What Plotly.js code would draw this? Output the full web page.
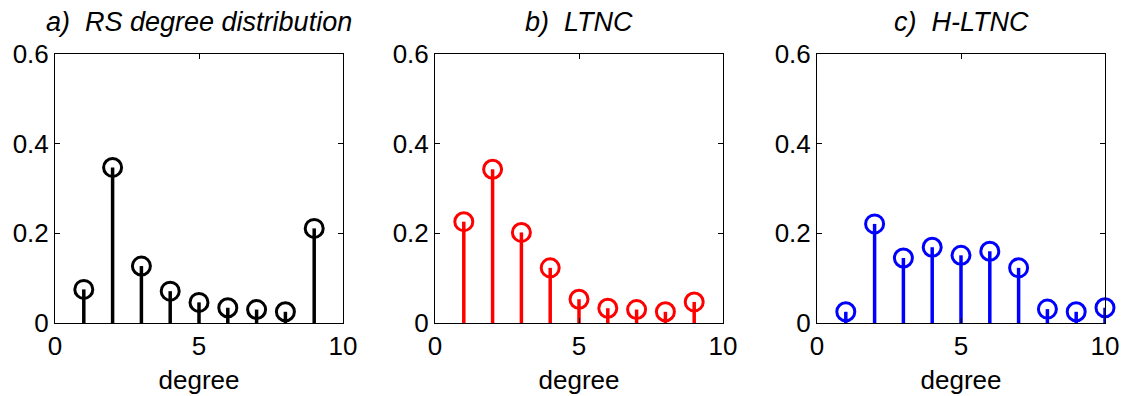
<!DOCTYPE html>
<html>
<head>
<meta charset="utf-8">
<script src="https://cdn.plot.ly/plotly-3.0.1.min.js"></script>
<style>html,body{margin:0;padding:0;background:#fff}#chart{width:1125px;height:396px}</style>
</head>
<body>
<div id="chart"></div>
<script>
// Data
const degreesA = [1, 2, 3, 4, 5, 6, 7, 8, 9];
const valuesA  = [0.075, 0.347, 0.127, 0.071, 0.046, 0.034, 0.030, 0.025, 0.211];
const degreesB = [1, 2, 3, 4, 5, 6, 7, 8, 9];
const valuesB  = [0.226, 0.343, 0.202, 0.123, 0.053, 0.033, 0.030, 0.025, 0.047];
const degreesC = [1, 2, 3, 4, 5, 6, 7, 8, 9, 10];
const valuesC  = [0.025, 0.221, 0.145, 0.169, 0.151, 0.160, 0.123, 0.031, 0.025, 0.034];
const titles = ["a)  RS degree distribution", "b)  LTNC", "c)  H-LTNC"];
const xTitle = "degree";
const yTickVals = [0, 0.2, 0.4, 0.6];
const yTickText = ["0", "0.2", "0.4", "0.6"];
const xTickVals = [0, 5, 10];
const xTickText = ["0", "5", "10"];

const panels = [
  {x: degreesA, y: valuesA, color: "#000000"},
  {x: degreesB, y: valuesB, color: "#ff0000"},
  {x: degreesC, y: valuesC, color: "#0000ff"}
];

const FONT = "Liberation Sans, Arial, sans-serif";
const W = 1125, H = 396;
const xDomains = [[55, 343], [435, 723], [817, 1105]].map(d => [d[0] / W, d[1] / W]);
const yDomain = [1 - 323 / H, 1 - 54 / H];

const traces = [];
panels.forEach((p, i) => {
  const ax = i === 0 ? "" : String(i + 1);
  const sx = [], sy = [];
  p.x.forEach((xv, k) => { sx.push(xv, xv, null); sy.push(0, p.y[k], null); });
  traces.push({
    type: "scatter", mode: "lines", x: sx, y: sy,
    xaxis: "x" + ax, yaxis: "y" + ax, cliponaxis: false,
    line: {color: p.color, width: 3.5}, hoverinfo: "skip", showlegend: false
  });
  traces.push({
    type: "scatter", mode: "markers", x: p.x, y: p.y,
    xaxis: "x" + ax, yaxis: "y" + ax, cliponaxis: false,
    marker: {symbol: "circle-open", size: 18, color: p.color, line: {color: p.color, width: 3}},
    showlegend: false
  });
});

const layout = {
  width: W, height: H,
  margin: {l: 0, r: 0, t: 0, b: 0},
  paper_bgcolor: "#ffffff", plot_bgcolor: "#ffffff",
  font: {family: FONT, size: 26, color: "#000"},
  showlegend: false,
  annotations: []
};

panels.forEach((p, i) => {
  const ax = i === 0 ? "" : String(i + 1);
  layout["xaxis" + ax] = {
    domain: xDomains[i], anchor: "y" + ax, range: [0, 10],
    tickmode: "array", tickvals: xTickVals, ticktext: xTickText,
    ticks: "inside", ticklen: 5, tickcolor: "#000", tickwidth: 1,
    showline: true, linecolor: "#000", linewidth: 1, mirror: "ticks",
    showgrid: false, zeroline: false, automargin: false,
    tickfont: {family: FONT, size: 26, color: "#000"},
    title: {text: xTitle, font: {family: FONT, size: 26, color: "#000"}, standoff: 10}
  };
  layout["yaxis" + ax] = {
    domain: yDomain, anchor: "x" + ax, range: [0, 0.6],
    tickmode: "array", tickvals: yTickVals, ticktext: yTickText,
    ticks: "inside", ticklen: 5, tickcolor: "#000", tickwidth: 1,
    showline: true, linecolor: "#000", linewidth: 1, mirror: "ticks",
    showgrid: false, zeroline: false, automargin: false,
    tickfont: {family: FONT, size: 26, color: "#000"}
  };
  layout.annotations.push({
    text: "<i>" + titles[i] + "</i>", xref: "paper", yref: "paper",
    x: (xDomains[i][0] + xDomains[i][1]) / 2, y: 1 - 22 / H,
    xanchor: "center", yanchor: "middle", showarrow: false,
    font: {family: FONT, size: 27, color: "#000"}
  });
});

Plotly.newPlot("chart", traces, layout, {staticPlot: true, displayModeBar: false});
</script>
</body>
</html>
